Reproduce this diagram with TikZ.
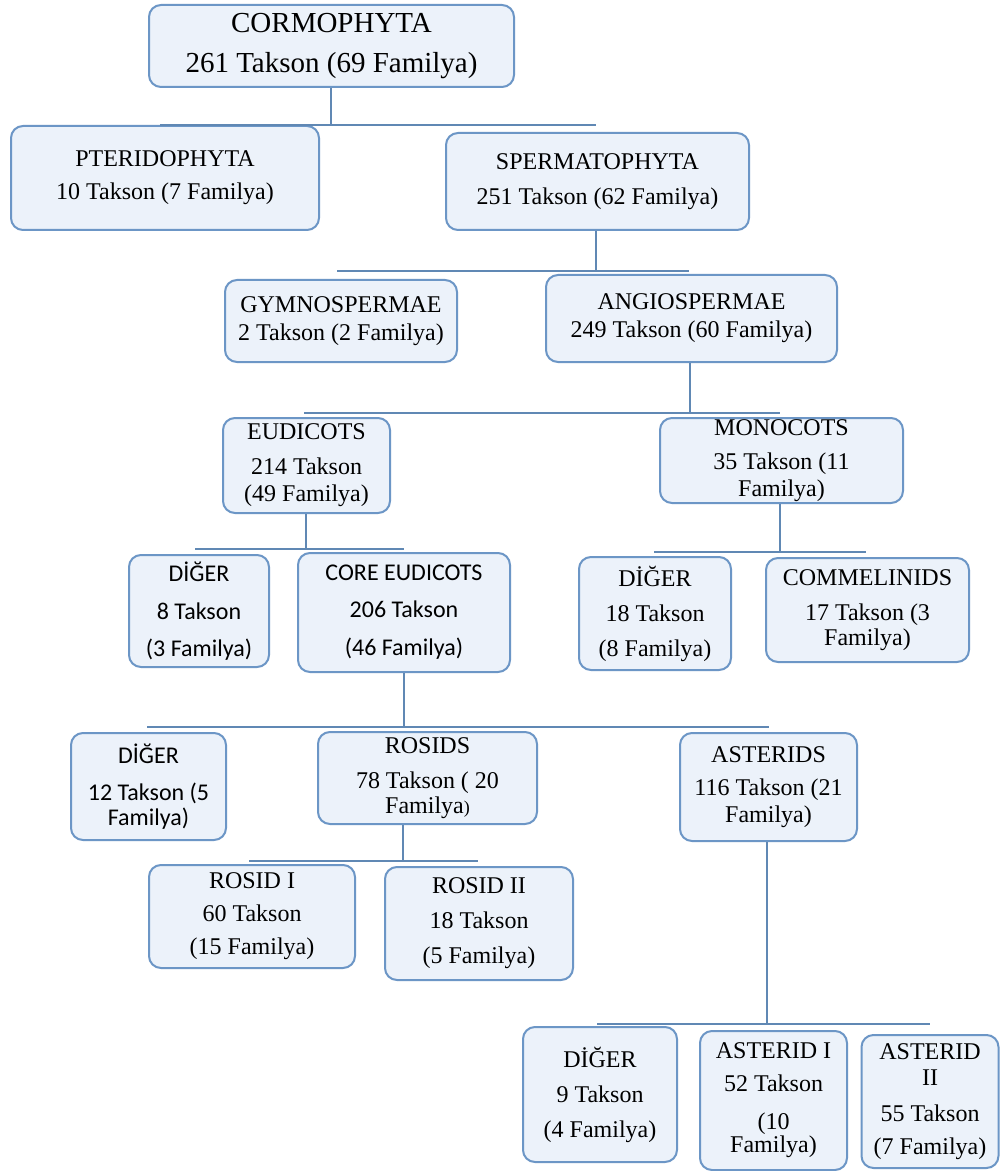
\documentclass[tikz,border=0pt]{standalone}
\usepackage{fontspec}
\setmainfont{Liberation Serif}
\newfontfamily\calibri{Carlito}
\definecolor{boxfill}{RGB}{236,242,250}
\definecolor{boxline}{RGB}{108,150,198}
\definecolor{linkline}{RGB}{96,136,180}
\tikzset{
        taxon/.style={draw=boxline,fill=boxfill,line width=1pt,rounded corners=6pt,align=center,inner sep=0pt,font=\fontsize{12}{14}\selectfont},
        taxonsans/.style={taxon,font=\calibri\fontsize{12}{14}\selectfont},
        link/.style={draw=linkline,line width=1.3pt}
}
\begin{document}
\begin{tikzpicture}[x=0.5pt,y=-0.5pt]
        \path[fill=white,use as bounding box] (0,0) rectangle (1000,1171);

        \node[taxon,font=\fontsize{14.5}{17}\selectfont,minimum width=182.5pt,minimum height=41pt] (cormo) at (331.5,46) {CORMOPHYTA\\[3pt]261 Takson (69 Familya)};

        \node[taxon,minimum width=154pt,minimum height=52pt] (pterido) at (165,178) {PTERIDOPHYTA\\[2.5pt]10 Takson (7 Familya)};
        \node[taxon,minimum width=151.5pt,minimum height=48.5pt] (sperma) at (597.5,181.5) {SPERMATOPHYTA\\[3.5pt]251 Takson (62 Familya)};

        \node[taxon,minimum width=116pt,minimum height=41pt] (gymno) at (341,321) {GYMNOSPERMAE\\2 Takson (2 Familya)};
        \node[taxon,minimum width=145.5pt,minimum height=43.5pt] (angio) at (691.5,318.5) {ANGIOSPERMAE\\249 Takson (60 Familya)};

        \node[taxon,minimum width=83.5pt,minimum height=47.5pt] (eudicots) at (306.5,465.5) {EUDICOTS\\[3.5pt]214 Takson\\[-0.5pt](49 Familya)};
        \node[taxon,minimum width=121.5pt,minimum height=42.5pt] (monocots) at (781.5,460.5) {MONOCOTS\\[3pt]35 Takson (11\\[-0.5pt]Familya)};

        \node[taxonsans,minimum width=70pt,minimum height=56pt] (digera) at (199,611) {DİĞER\\[5pt]8 Takson\\[4.5pt](3 Familya)};
        \node[taxonsans,minimum width=106pt,minimum height=59.5pt] (coreeud) at (404,612.5) {CORE EUDICOTS\\[4.5pt]206 Takson\\[5pt](46 Familya)};
        \node[taxon,minimum width=76pt,minimum height=56.5pt] (digerb) at (655,613.5) {DİĞER\\[3.5pt]18 Takson\\[3.5pt](8 Familya)};
        \node[taxon,minimum width=101.5pt,minimum height=52pt] (commel) at (867.5,610) {COMMELINIDS\\[3.5pt]17 Takson (3\\[-1.5pt]Familya)};

        \node[taxonsans,minimum width=77.5pt,minimum height=53.5pt] (digerc) at (148.5,786.5) {DİĞER\\[4.5pt]12 Takson (5\\[-1.5pt]Familya)};
        \node[taxon,minimum width=109.5pt,minimum height=46pt] (rosids) at (427.5,778) {ROSIDS\\[3.5pt]78 Takson ( 20\\[-1.5pt]Familya{\fontsize{9}{9}\selectfont)}};
        \node[taxon,minimum width=88.5pt,minimum height=54pt] (asterids) at (768.5,787) {ASTERIDS\\[2.5pt]116 Takson (21\\[-0.5pt]Familya)};

        \node[taxon,minimum width=103pt,minimum height=51.5pt] (rosida) at (252,916.5) {ROSID I\\[2.5pt]60 Takson\\[2.5pt](15 Familya)};
        \node[taxon,minimum width=94pt,minimum height=56.5pt] (rosidb) at (479,923.5) {ROSID II\\[3.5pt]18 Takson\\[3.5pt](5 Familya)};

        \node[taxon,minimum width=77pt,minimum height=67.5pt] (digerd) at (600,1094.5) {DİĞER\\[3.5pt]9 Takson\\[3.5pt](4 Familya)};
        \node[taxon,minimum width=73.5pt,minimum height=69.5pt] (asterida) at (773.5,1100.5) {ASTERID I\\[2.5pt]52 Takson\\[5pt](10\\[-2.5pt]Familya)};
        \node[taxon,minimum width=68.5pt,minimum height=66.5pt] (asteridb) at (930,1101.5) {ASTERID\\[-1pt]II\\[4pt]55 Takson\\[2.5pt](7 Familya)};

        \coordinate (cormoj) at (331,125);
        \coordinate (cormol) at (160,125);
        \coordinate (cormor) at (596,125);
        \coordinate (spermaj) at (596,271);
        \coordinate (spermal) at (337,271);
        \coordinate (spermar) at (689,271);
        \coordinate (angioj) at (690,413);
        \coordinate (angiol) at (304,413);
        \coordinate (angior) at (780,413);
        \coordinate (eudj) at (306,549);
        \coordinate (eudl) at (195,549);
        \coordinate (eudr) at (404,549);
        \coordinate (monoj) at (780,552);
        \coordinate (monol) at (654,552);
        \coordinate (monor) at (866,552);
        \coordinate (corej) at (404,727);
        \coordinate (corel) at (147,727);
        \coordinate (corer) at (769,727);
        \coordinate (rosj) at (403,861);
        \coordinate (rosl) at (249,861);
        \coordinate (rosr) at (478,861);
        \coordinate (asterj) at (767,1024);
        \coordinate (asterl) at (597,1024);
        \coordinate (asterr) at (930,1024);

        \draw[link] (cormoj |- cormo.south) -- (cormoj);
        \draw[link] (cormol) -- (cormor);
        \draw[link] (spermaj |- sperma.south) -- (spermaj);
        \draw[link] (spermal) -- (spermar);
        \draw[link] (angioj |- angio.south) -- (angioj);
        \draw[link] (angiol) -- (angior);
        \draw[link] (eudj |- eudicots.south) -- (eudj);
        \draw[link] (eudl) -- (eudr);
        \draw[link] (monoj |- monocots.south) -- (monoj);
        \draw[link] (monol) -- (monor);
        \draw[link] (corej |- coreeud.south) -- (corej);
        \draw[link] (corel) -- (corer);
        \draw[link] (rosj |- rosids.south) -- (rosj);
        \draw[link] (rosl) -- (rosr);
        \draw[link] (asterj |- asterids.south) -- (asterj);
        \draw[link] (asterl) -- (asterr);
\end{tikzpicture}
\end{document}
